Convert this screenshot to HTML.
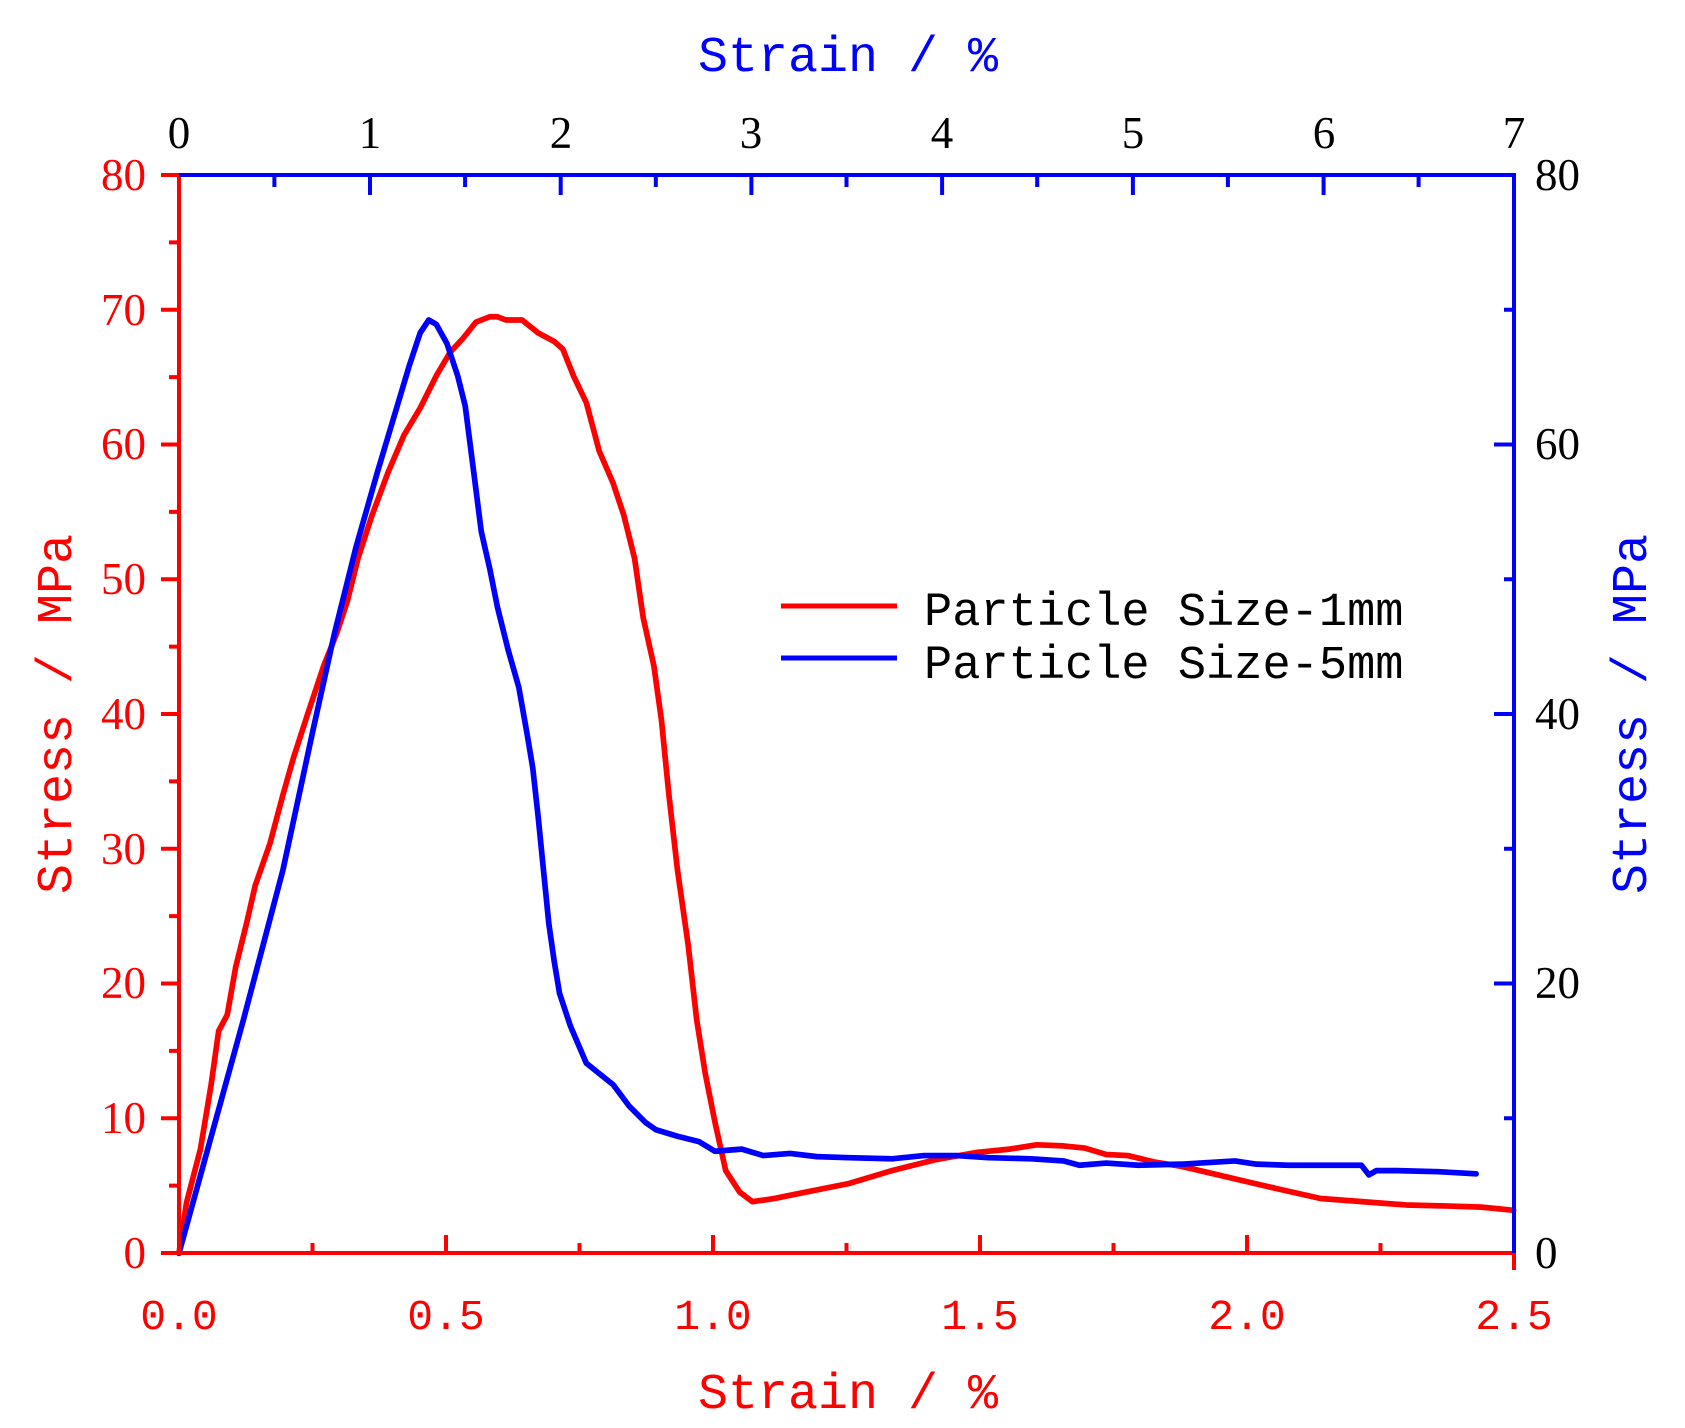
<!DOCTYPE html>
<html><head><meta charset="utf-8"><style>
html,body{margin:0;padding:0;background:#fff;}
svg{display:block;}
text{font-family:"Liberation Mono","Noto Sans CJK SC",monospace;}
.sf{font-family:"Liberation Serif",serif;}
</style></head><body>
<svg width="1685" height="1428" viewBox="0 0 1685 1428" xmlns="http://www.w3.org/2000/svg">
<g transform="matrix(1.072 0 0 1.074 2.1 -0.06)" fill="none" stroke-width="5.3" stroke-linejoin="round" stroke-linecap="round">
<polyline stroke="#ff0000" points="165,1167 172,1120 185,1070 195,1010 202,960 210,945 218,900 228,860 236,825 250,785 262,740 272,705 285,665 300,620 312,590 322,560 332,520 345,480 360,440 375,405 390,380 405,350 418,328 430,315 442,300 455,295 462,295 470,298 485,298 500,310 515,318 523,325 533,350 545,375 557,420 570,450 580,480 590,520 598,575 608,620 615,670 622,740 630,810 640,880 648,950 656,1000 665,1045 675,1090 688,1110 700,1119 720,1116 750,1110 790,1102 830,1090 870,1080 910,1073 940,1070 965,1066 990,1067 1010,1069 1030,1075 1050,1076 1075,1082 1100,1086 1130,1093 1160,1100 1190,1107 1230,1116 1270,1119 1310,1122 1350,1123 1380,1124 1410,1127"/>
<polyline stroke="#0000ff" points="165,1167 225,950 262,810 290,680 310,590 330,510 350,440 368,380 380,340 390,310 398,298 405,302 415,320 425,350 432,378 440,440 447,495 455,530 462,565 472,605 482,640 490,685 495,715 500,760 505,810 510,860 515,895 520,925 530,955 545,990 555,998 570,1010 585,1030 600,1045 610,1052 630,1058 650,1063 665,1072 690,1070 710,1076 735,1074 760,1077 790,1078 830,1079 860,1076 890,1076 920,1078 960,1079 990,1081 1005,1085 1030,1083 1060,1085 1100,1084 1150,1081 1170,1084 1200,1085 1230,1085 1268,1085 1275,1094 1282,1090 1300,1090 1340,1091 1375,1093"/>
</g>
<g stroke-width="4">
<line x1="179" y1="175" x2="179" y2="1253" stroke="#ff0000"/>
<line x1="177" y1="1253" x2="1514" y2="1253" stroke="#ff0000"/>
<line x1="177" y1="175" x2="1516" y2="175" stroke="#0000ff"/>
<line x1="1514" y1="173" x2="1514" y2="1253" stroke="#0000ff"/>
</g>
<g stroke="#ff0000" stroke-width="4">
<path d="M161 175H179M161 309.75H179M161 444.5H179M161 579.25H179M161 714H179M161 848.75H179M161 983.5H179M161 1118.25H179M161 1253H179"/>
<path d="M169 242.4H179M169 377.1H179M169 511.9H179M169 646.6H179M169 781.4H179M169 916.1H179M169 1050.9H179M169 1185.6H179"/>
<path d="M179 1253V1235M446 1253V1235M713 1253V1235M980 1253V1235M1247 1253V1235"/>
<path d="M312.5 1253V1243M579.5 1253V1243M846.5 1253V1243M1113.5 1253V1243M1380.5 1253V1243"/>
<path d="M1514 1253V1270"/>
</g>
<g stroke="#0000ff" stroke-width="4">
<path d="M370 175V195M560.7 175V195M751.4 175V195M942.1 175V195M1132.9 175V195M1323.6 175V195"/>
<path d="M274.4 175V187M465.1 175V187M655.8 175V187M846.5 175V187M1037.2 175V187M1227.9 175V187M1418.6 175V187"/>
<path d="M1514 444.5H1494M1514 714H1494M1514 983.5H1494M1514 175H1494"/>
<path d="M1514 309.75H1504M1514 579.25H1504M1514 848.75H1504M1514 1118.25H1504"/>
</g>
<g fill="#ff0000" font-size="45" text-anchor="end">
<text class="sf" x="146" y="190">80</text><text class="sf" x="146" y="325">70</text><text class="sf" x="146" y="459">60</text><text class="sf" x="146" y="594">50</text><text class="sf" x="146" y="729">40</text><text class="sf" x="146" y="864">30</text><text class="sf" x="146" y="998">20</text><text class="sf" x="146" y="1133">10</text><text class="sf" x="146" y="1268">0</text>
</g>
<g fill="#ff0000" font-size="43" text-anchor="middle">
<text x="179" y="1329">0.0</text><text x="446" y="1329">0.5</text><text x="713" y="1329">1.0</text><text x="980" y="1329">1.5</text><text x="1247" y="1329">2.0</text><text x="1514" y="1329">2.5</text>
</g>
<g fill="#000" font-size="45" text-anchor="middle">
<text class="sf" x="179" y="148">0</text><text class="sf" x="370" y="148">1</text><text class="sf" x="561" y="148">2</text><text class="sf" x="751" y="148">3</text><text class="sf" x="942" y="148">4</text><text class="sf" x="1133" y="148">5</text><text class="sf" x="1324" y="148">6</text><text class="sf" x="1514" y="148">7</text>
</g>
<g fill="#000" font-size="45" text-anchor="start">
<text class="sf" x="1535" y="190">80</text><text class="sf" x="1535" y="459">60</text><text class="sf" x="1535" y="729">40</text><text class="sf" x="1535" y="998">20</text><text class="sf" x="1535" y="1268">0</text>
</g>
<text x="848" y="1408" font-size="50" fill="#ff0000" text-anchor="middle">Strain / %</text>
<text x="848" y="71" font-size="50" fill="#0000ff" text-anchor="middle">Strain / %</text>
<text transform="translate(71 714) rotate(-90)" font-size="50" fill="#ff0000" text-anchor="middle">Stress / MPa</text>
<text transform="translate(1646 714) rotate(-90)" font-size="50" fill="#0000ff" text-anchor="middle">Stress / MPa</text>
<line x1="781" y1="606" x2="897" y2="606" stroke="#ff0000" stroke-width="5"/>
<line x1="781" y1="658" x2="897" y2="658" stroke="#0000ff" stroke-width="5"/>
<text x="924" y="625" font-size="47" fill="#000">Particle Size-1mm</text>
<text x="924" y="678" font-size="47" fill="#000">Particle Size-5mm</text>
</svg>
</body></html>
